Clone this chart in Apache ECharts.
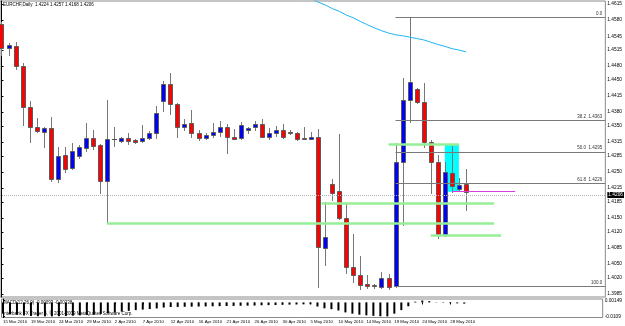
<!DOCTYPE html>
<html><head><meta charset="utf-8">
<script src="https://cdn.jsdelivr.net/npm/echarts@6/dist/echarts.min.js"></script>
<style>html,body{margin:0;padding:0;background:#fff}#c{width:625px;height:326px}</style>
</head><body><div id="c"></div>
<script>
// ---- data ----
const symbolName = 'EURCHF,Daily';
const dateLabels = ['15 Mar 2010','19 Mar 2010','24 Mar 2010','29 Mar 2010','2 Apr 2010','7 Apr 2010','12 Apr 2010','16 Apr 2010','21 Apr 2010','26 Apr 2010','30 Apr 2010','5 May 2010','10 May 2010','14 May 2010','19 May 2010','24 May 2010','28 May 2010'];
const dateLabelBars = [0,4,8,12,16,20,24,28,32,36,40,44,48,52,56,60,64];
const opens  = [1.4572,1.4519,1.4524,1.4481,1.4391,1.4348,1.4337,1.4346,1.4235,1.4287,1.4259,1.4285,1.4302,1.4324,1.4309,1.4230,1.4322,1.4317,1.4324,1.4320,1.4317,1.4324,1.4335,1.4404,1.4441,1.4398,1.4348,1.4356,1.4335,1.4324,1.4330,1.4337,1.4348,1.4326,1.4324,1.4341,1.4348,1.4354,1.4326,1.4335,1.4341,1.4337,1.4335,1.4324,1.4322,1.4326,1.4085,1.4224,1.4209,1.4150,1.4044,1.4026,1.4007,1.4005,1.4000,1.4020,1.4003,1.4272,1.4406,1.4430,1.4402,1.4315,1.4272,1.4113,1.4248,1.4213,1.4224];
const highs  = [1.4576,1.4530,1.4532,1.4487,1.4404,1.4367,1.4348,1.4370,1.4304,1.4304,1.4313,1.4309,1.4356,1.4341,1.4310,1.4406,1.4348,1.4326,1.4335,1.4322,1.4352,1.4339,1.4393,1.4448,1.4465,1.4399,1.4365,1.4385,1.4341,1.4335,1.4356,1.4361,1.4354,1.4343,1.4359,1.4348,1.4361,1.4365,1.4346,1.4350,1.4354,1.4341,1.4337,1.4348,1.4337,1.4343,1.4185,1.4235,1.4333,1.4183,1.4115,1.4068,1.4026,1.4007,1.4033,1.4029,1.4313,1.4454,1.4587,1.4432,1.4443,1.4320,1.4287,1.4272,1.4307,1.4237,1.4257];
const lows   = [1.4504,1.4504,1.4474,1.4352,1.4315,1.4337,1.4304,1.4230,1.4228,1.4250,1.4257,1.4280,1.4296,1.4300,1.4204,1.4141,1.4307,1.4315,1.4311,1.4313,1.4315,1.4322,1.4324,1.4383,1.4376,1.4326,1.4341,1.4326,1.4320,1.4322,1.4326,1.4328,1.4291,1.4321,1.4322,1.4335,1.4341,1.4325,1.4322,1.4328,1.4324,1.4333,1.4320,1.4322,1.4321,1.4000,1.4048,1.4189,1.4148,1.4031,1.4011,1.3996,1.3998,1.3998,1.3998,1.3996,1.4001,1.4135,1.4359,1.4400,1.4304,1.4204,1.4107,1.4112,1.4207,1.4211,1.4168];
const closes = [1.4519,1.4526,1.4480,1.4391,1.4348,1.4339,1.4346,1.4235,1.4285,1.4257,1.4296,1.4304,1.4324,1.4307,1.4230,1.4322,1.4322,1.4324,1.4317,1.4315,1.4324,1.4335,1.4378,1.4441,1.4398,1.4348,1.4354,1.4335,1.4324,1.4330,1.4337,1.4348,1.4326,1.4322,1.4352,1.4346,1.4354,1.4326,1.4335,1.4341,1.4326,1.4335,1.4322,1.4323,1.4326,1.4087,1.4109,1.4204,1.4150,1.4044,1.4026,1.4005,1.4002,1.4003,1.4020,1.4000,1.4272,1.4406,1.4446,1.4402,1.4315,1.4272,1.4115,1.4250,1.4220,1.4222,1.4206];
// moving average (visible part only)
const maStartBar = 44;
const maValues = [1.4627,1.4619,1.4613,1.4605,1.4599,1.4591,1.4585,1.4577,1.4570,1.4563,1.4557,1.4552,1.4548,1.4546,1.4543,1.4540,1.4537,1.4532,1.4527,1.4523,1.4518,1.4515,1.4511];
const macdValues = [-0.0088,-0.0092,-0.0096,-0.0102,-0.0106,-0.0108,-0.0109,-0.0109,-0.0108,-0.0106,-0.0104,-0.0101,-0.0098,-0.0095,-0.0090,-0.0084,-0.0078,-0.0072,-0.0066,-0.0060,-0.0056,-0.0052,-0.0047,-0.0040,-0.0036,-0.0035,-0.0034,-0.0033,-0.0032,-0.0031,-0.0030,-0.0029,-0.0028,-0.0027,-0.0026,-0.0025,-0.0024,-0.0022,-0.0021,-0.0020,-0.0018,-0.0017,-0.0016,-0.0015,-0.0014,-0.0032,-0.0046,-0.0053,-0.0063,-0.0078,-0.0088,-0.0096,-0.0101,-0.0105,-0.0108,-0.0109,-0.0088,-0.0060,-0.0030,0.0006,0.00149,0.0010,0.0002,-0.0003,-0.0005,-0.0007,-0.00093];
const macdSignalLast = '-0.00238';
const priceTicks = [1.4615,1.4580,1.4545,1.4515,1.4480,1.4450,1.4415,1.4380,1.4350,1.4315,1.4285,1.4250,1.4215,1.4185,1.4150,1.4120,1.4085,1.4050,1.4020,1.3985];
const macdTicks = [0.00149,-0.0109];
const macdTickLabels = ['0.00149','-0.0109'];
const lastPrice = 1.4206;
// Fibonacci retracement object (anchored bar, high, low)
const fibStartBar = 56;
const fibHigh = 1.4587, fibLow = 1.4001;
const fibLevels = [0, 38.2, 50.0, 61.8, 100.0];
const fibLabels = ['0.0','38.2  1.4363','50.0  1.4295','61.8  1.4226','100.0'];
// horizontal line objects (start bar, end bar, price)
const greenStart = [55, 45.5, 15, 61];
const greenEnd   = [65, 70, 70, 71];
const greenPrice = [1.4310, 1.4183, 1.4139, 1.4112];
const magentaLine = {start: 64, end: 73, price: 1.4209};
const cyanBox = {start: 63, end: 65, top: 1.4310, bottom: 1.4207};

// ---- chart ----
const FONT = '"Liberation Sans", Arial, sans-serif';
const X_MIN = -0.21, X_MAX = 85.81;
const Y_MIN = 1.39785, Y_MAX = 1.46215;
const chart = echarts.init(document.getElementById('c'), null, {renderer: 'canvas'});

const markLineData = [];
markLineData.push({
  yAxis: lastPrice,
  lineStyle: {color: '#b4b4b4', width: 1, type: 'dotted'},
  label: {show: true, position: 'end', formatter: lastPrice.toFixed(4), backgroundColor: '#000', color: '#fff',
          fontSize: 4.8, fontFamily: FONT, padding: [1, 1, 0, 1], distance: 2}
});
fibLevels.forEach((lv, k) => {
  const p = fibHigh - (fibHigh - fibLow) * lv / 100;
  markLineData.push([
    {coord: [fibStartBar, p], lineStyle: {color: '#7a7a7a', width: 1, type: 'solid'},
     label: {show: true, position: 'insideEndTop', formatter: fibLabels[k], fontSize: 4.5, fontFamily: FONT, color: '#333', distance: [3, 1]}},
    {coord: [X_MAX, p]}
  ]);
});
greenPrice.forEach((p, k) => {
  markLineData.push([
    {coord: [greenStart[k], p], lineStyle: {color: '#96ee96', width: 2.6, type: 'solid'}, label: {show: false}},
    {coord: [greenEnd[k], p]}
  ]);
});
markLineData.push([
  {coord: [magentaLine.start, magentaLine.price], lineStyle: {color: '#dc3cdc', width: 1, type: 'solid'}, label: {show: false}},
  {coord: [magentaLine.end, magentaLine.price]}
]);

const option = {
  animation: false,
  backgroundColor: '#fff',
  textStyle: {fontFamily: FONT},
  grid: [
    {left: 0, right: 17, top: 1, height: 296, show: true, borderColor: '#8a8a8a', borderWidth: 1},
    {left: 0, right: 17, top: 299, height: 18.5, show: true, borderColor: '#8a8a8a', borderWidth: 1}
  ],
  xAxis: [
    {type: 'value', gridIndex: 0, min: X_MIN, max: X_MAX, show: false},
    {type: 'value', gridIndex: 1, min: X_MIN, max: X_MAX,
     axisLine: {show: false}, splitLine: {show: false},
     axisTick: {show: true, customValues: dateLabelBars, length: 2, lineStyle: {color: '#000'}},
     axisLabel: {customValues: dateLabelBars, formatter: v => dateLabels[dateLabelBars.indexOf(v)],
                 align: 'left', fontSize: 4.3, color: '#000', margin: 2.5, fontFamily: FONT}}
  ],
  yAxis: [
    {type: 'value', gridIndex: 0, position: 'right', min: Y_MIN, max: Y_MAX, scale: true,
     axisLine: {show: true, lineStyle: {color: '#000'}}, splitLine: {show: false},
     axisTick: {show: true, customValues: priceTicks, length: 2, lineStyle: {color: '#000'}},
     axisLabel: {customValues: priceTicks, formatter: v => v.toFixed(4), fontSize: 4.8, color: '#000', margin: 2, fontFamily: FONT}},
    {type: 'value', gridIndex: 1, position: 'right', min: -0.0118, max: 0.0027,
     axisLine: {show: true, lineStyle: {color: '#000'}}, splitLine: {show: false},
     axisTick: {show: true, customValues: macdTicks, length: 2, lineStyle: {color: '#000'}},
     axisLabel: {customValues: macdTicks, formatter: v => macdTickLabels[macdTicks.indexOf(v)], fontSize: 4.8, color: '#000', margin: 2, fontFamily: FONT}}
  ],
  series: [
    {
      name: 'objects', type: 'line', xAxisIndex: 0, yAxisIndex: 0, z: 1, silent: true,
      data: closes.map((c, i) => [i, c]), symbol: 'none', lineStyle: {width: 0, opacity: 0},
      markArea: {silent: true, itemStyle: {color: '#00ffff', opacity: 1},
                 data: [[{coord: [cyanBox.start, cyanBox.top]}, {coord: [cyanBox.end, cyanBox.bottom]}]]},
      markLine: {silent: true, symbol: ['none', 'none'], animation: false, data: markLineData}
    },
    {
      name: 'candles', type: 'custom', xAxisIndex: 0, yAxisIndex: 0, z: 3,
      data: opens.map((o, i) => [i, o, highs[i], lows[i], closes[i]]),
      renderItem: function (params, api) {
        const i = api.value(0), o = api.value(1), h = api.value(2), l = api.value(3), c = api.value(4);
        const pO = api.coord([i, o]), pH = api.coord([i, h]), pL = api.coord([i, l]), pC = api.coord([i, c]);
        const w = Math.round(api.size([1, 0])[0] * 0.71);
        const cx = Math.round(pO[0]) + 0.5;
        const left = Math.round(cx - w / 2);
        const top = Math.round(Math.min(pO[1], pC[1]));
        const bot = Math.round(Math.max(pO[1], pC[1]));
        const up = c > o;
        const children = [{type: 'line', shape: {x1: cx, y1: Math.round(pH[1]), x2: cx, y2: Math.round(pL[1]) + 1},
                           style: {stroke: '#777', lineWidth: 1}}];
        if (c === o) {
          children.push({type: 'line', shape: {x1: left, y1: top + 0.5, x2: left + w, y2: top + 0.5}, style: {stroke: '#555', lineWidth: 1}});
        } else {
          children.push({type: 'rect', shape: {x: left + 0.5, y: top + 0.5, width: w - 1, height: Math.max(bot - top, 1)},
                         style: {fill: up ? '#0000ff' : '#ff0000', stroke: '#5a5a5a', lineWidth: 1}});
        }
        return {type: 'group', children: children};
      }
    },
    {
      name: 'MA', type: 'line', xAxisIndex: 0, yAxisIndex: 0, z: 4, silent: true,
      data: maValues.map((v, k) => [maStartBar + k, v]), symbol: 'none', clip: true,
      lineStyle: {color: '#1cb6f2', width: 1}
    },
    {
      name: 'MACD', type: 'bar', xAxisIndex: 1, yAxisIndex: 1, silent: true,
      data: macdValues.map((v, i) => [i, v]), barWidth: 2, itemStyle: {color: '#000'}
    }
  ],
  graphic: [
    {type: 'text', left: 3, top: 2, style: {text: symbolName + '  ' + [opens[66], highs[66], lows[66], closes[66]].map(v => v.toFixed(4)).join(' '), fontSize: 4.5, fill: '#000', fontFamily: FONT}},
    {type: 'text', left: 3, top: 300, style: {text: 'MACD(12,26,9) ' + macdValues[macdValues.length - 1].toFixed(5) + ' ' + macdSignalLast, fontSize: 4.5, fill: '#000', fontFamily: FONT}},
    {type: 'text', left: 3, top: 311.5, style: {text: 'Interbank FX Trader 4, \u00a9 2001-2009 MetaQuotes Software Corp.', fontSize: 4.5, fill: '#000', fontFamily: FONT}}
  ]
};
chart.setOption(option);
</script></body></html>
